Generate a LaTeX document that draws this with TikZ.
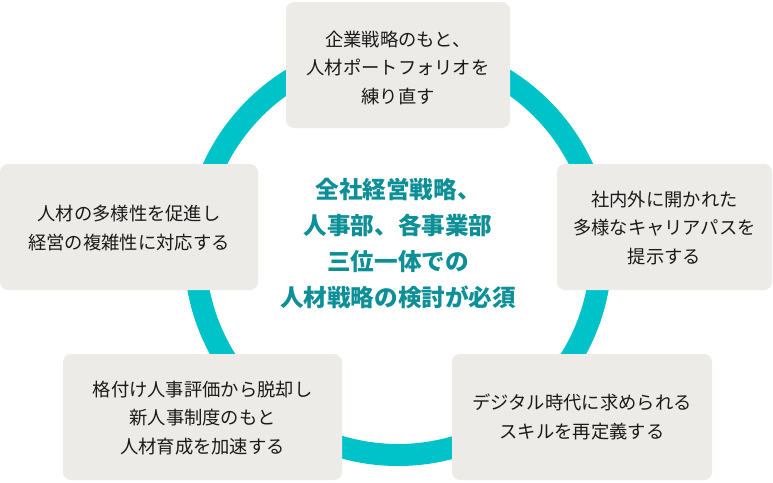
\documentclass[tikz,border=0pt]{standalone}
\usepackage{fontspec}
\newfontfamily\cjk{Noto Sans CJK JP}
\definecolor{ringc}{HTML}{00C2C9}
\definecolor{centc}{HTML}{0C8F96}
\definecolor{boxc}{HTML}{ECEBE8}
\definecolor{txtc}{HTML}{1A1A1A}
\begin{document}
\begin{tikzpicture}[x=1pt,y=-1pt,
  card/.style={fill=boxc, draw=none, rounded corners=8pt},
  cardtext/.style={font=\cjk\fontsize{18.3}{28.5}\selectfont, text=txtc, align=center, inner sep=0pt},
  centertext/.style={font=\cjk\bfseries\fontsize{23.6}{36}\selectfont, text=centc, align=center, inner sep=0pt}]
\useasboundingbox (0,0) rectangle (773,482);
% ring
\node[circle, minimum size=406pt, inner sep=0pt, draw=ringc, line width=22pt] (ring) at (398,252) {};
% cards
\draw[card] (286,2) rectangle (510,128);
\draw[card] (0,164) rectangle (258,290);
\draw[card] (557,164) rectangle (772,290);
\draw[card] (63,354) rectangle (342,480);
\draw[card] (452,354) rectangle (712,480);
% texts
\node[cardtext] (t1) at (398,68) {企業戦略のもと、\\人材ポートフォリオを\\練り直す};
\node[cardtext] (t2) at (129,228) {人材の多様性を促進し\\経営の複雑性に対応する};
\node[cardtext] (t3) at (664.5,228) {社内外に開かれた\\多様なキャリアパスを\\提示する};
\node[cardtext] (t4) at (202.5,418) {格付け人事評価から脱却し\\新人事制度のもと\\人材育成を加速する};
\node[cardtext] (t5) at (582,417) {デジタル時代に求められる\\スキルを再定義する};
\node[centertext] (c) at (398,244) {全社経営戦略、\\人事部、各事業部\\三位一体での\\人材戦略の検討が必須};
\end{tikzpicture}
\end{document}
